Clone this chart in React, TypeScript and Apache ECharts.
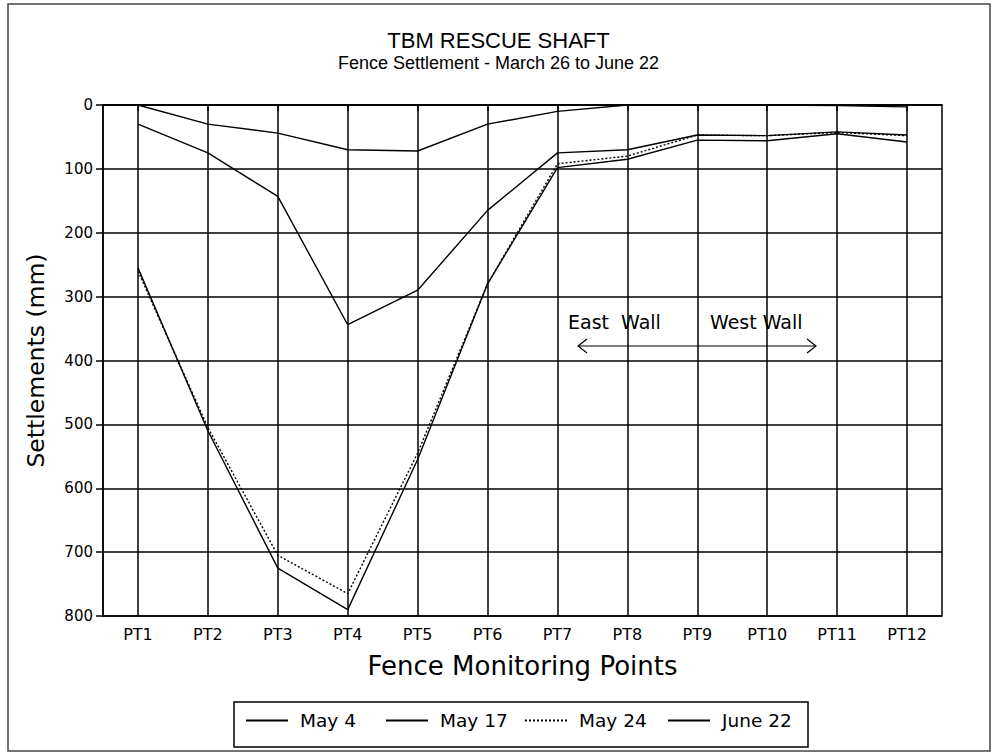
import React, { useEffect, useRef } from "react";
import * as echarts from "echarts";

const categories = ["PT1", "PT2", "PT3", "PT4", "PT5", "PT6", "PT7", "PT8", "PT9", "PT10", "PT11", "PT12"];
const seriesNames = ["May 4", "May 17", "May 24", "June 22"];
const may4 = [0, 30, 44, 70, 72, 30, 10, 0, 0, 0, 1, 3];
const may17 = [30, 75, 143, 344, 290, 165, 75, 70, 47, 48, 42, 47];
const may24 = [260, 505, 705, 765, 545, 280, 92, 80, 47, 48, 43, 48];
const june22 = [255, 510, 725, 790, 555, 280, 98, 85, 55, 56, 45, 58];
const yTicks = { min: 0, max: 800, interval: 100 };

const WIDE = "'DejaVu Sans', Verdana, sans-serif";
const NARROW = "'Liberation Sans', Arial, sans-serif";

const legendLefts = [245, 385, 524, 667];

export default function App() {
  const ref = useRef<HTMLDivElement>(null);
  useEffect(() => {
    document.body.style.margin = "0";
    const chart = echarts.init(ref.current!, null, { renderer: "svg" });
    const lineBase = (name: string, data: number[], type: any) => ({
      name,
      type: "line",
      data,
      symbol: "none",
      lineStyle: { color: "#000", width: 1.4, type },
      itemStyle: { color: "#000" },
      z: 3,
    });
    const s1: any = lineBase(seriesNames[0], may4, "solid");
    s1.markLine = {
      silent: true,
      symbol: ["none", "none"],
      label: { show: false },
      lineStyle: { color: "#000", width: 1.5, type: "solid" },
      data: categories.map((c) => ({ xAxis: c })),
      z: 2,
    };
    const legends = seriesNames.map((name, i) => ({
      data: [name],
      left: legendLefts[i],
      top: 711,
      orient: "horizontal",
      padding: 0,
      itemWidth: 42,
      itemHeight: 14,
      itemStyle: { color: "rgba(0,0,0,0)", borderWidth: 0 },
      textStyle: { fontFamily: WIDE, fontSize: 18.5, color: "#000", padding: [0, 0, 0, 7] },
    }));
    chart.setOption({
      animation: false,
      backgroundColor: "#fff",
      textStyle: { fontFamily: WIDE, color: "#000" },
      title: {
        text: "TBM RESCUE SHAFT",
        subtext: "Fence Settlement - March 26 to June 22",
        left: "center",
        top: 24,
        itemGap: 3,
        textStyle: { fontFamily: NARROW, fontSize: 22, fontWeight: "normal", color: "#000" },
        subtextStyle: { fontFamily: NARROW, fontSize: 18, color: "#000" },
      },
      grid: {
        left: 103,
        right: 55,
        top: 105,
        bottom: 139,
        show: true,
        borderColor: "#000",
        borderWidth: 1.5,
        containLabel: false,
      },
      legend: legends,
      xAxis: {
        type: "category",
        data: categories,
        boundaryGap: true,
        name: "Fence Monitoring Points",
        nameLocation: "middle",
        nameGap: 37,
        nameTextStyle: { fontFamily: WIDE, fontSize: 26, color: "#000" },
        axisLine: { lineStyle: { color: "#000", width: 1.5 } },
        axisTick: { show: true, alignWithLabel: true, length: 6, lineStyle: { color: "#000", width: 1.5 } },
        axisLabel: { fontFamily: WIDE, fontSize: 16, color: "#000", margin: 10 },
        splitLine: { show: false },
      },
      yAxis: {
        type: "value",
        inverse: true,
        min: yTicks.min,
        max: yTicks.max,
        interval: yTicks.interval,
        name: "Settlements (mm)",
        nameLocation: "middle",
        nameGap: 55,
        nameTextStyle: { fontFamily: WIDE, fontSize: 23.5, color: "#000" },
        axisLine: { show: true, lineStyle: { color: "#000", width: 1.5 } },
        axisTick: { show: true, length: 7, lineStyle: { color: "#000", width: 1.5 } },
        axisLabel: { fontFamily: WIDE, fontSize: 15, color: "#000", margin: 10 },
        splitLine: { show: true, lineStyle: { color: "#000", width: 1.5 } },
      },
      series: [
        s1,
        lineBase(seriesNames[1], may17, "solid"),
        lineBase(seriesNames[2], may24, [2, 2]),
        lineBase(seriesNames[3], june22, "solid"),
      ],
      graphic: [
        {
          type: "rect",
          shape: { x: 8, y: 4, width: 982, height: 747 },
          style: { fill: "none", stroke: "#444", lineWidth: 1.5 },
          silent: true,
          z: 0,
        },
        {
          type: "rect",
          shape: { x: 234, y: 702, width: 574, height: 45 },
          style: { fill: "none", stroke: "#000", lineWidth: 1.5 },
          silent: true,
          z: 10,
        },
        {
          type: "text",
          x: 568,
          y: 322,
          style: { text: "East  Wall", fontFamily: WIDE, fontSize: 19, fill: "#000", verticalAlign: "middle" },
          z: 10,
        },
        {
          type: "text",
          x: 710,
          y: 322,
          style: { text: "West Wall", fontFamily: WIDE, fontSize: 19, fill: "#000", verticalAlign: "middle" },
          z: 10,
        },
        {
          type: "line",
          shape: { x1: 578, y1: 346, x2: 816, y2: 346 },
          style: { stroke: "#000", lineWidth: 1.2 },
          z: 10,
        },
        {
          type: "polyline",
          shape: { points: [[587, 339], [578, 346], [587, 353]] },
          style: { stroke: "#000", lineWidth: 1.2, fill: "none" },
          z: 10,
        },
        {
          type: "polyline",
          shape: { points: [[807, 339], [816, 346], [807, 353]] },
          style: { stroke: "#000", lineWidth: 1.2, fill: "none" },
          z: 10,
        },
      ],
    });
    return () => chart.dispose();
  }, []);
  return <div ref={ref} style={{ width: 997, height: 755 }} />;
}
